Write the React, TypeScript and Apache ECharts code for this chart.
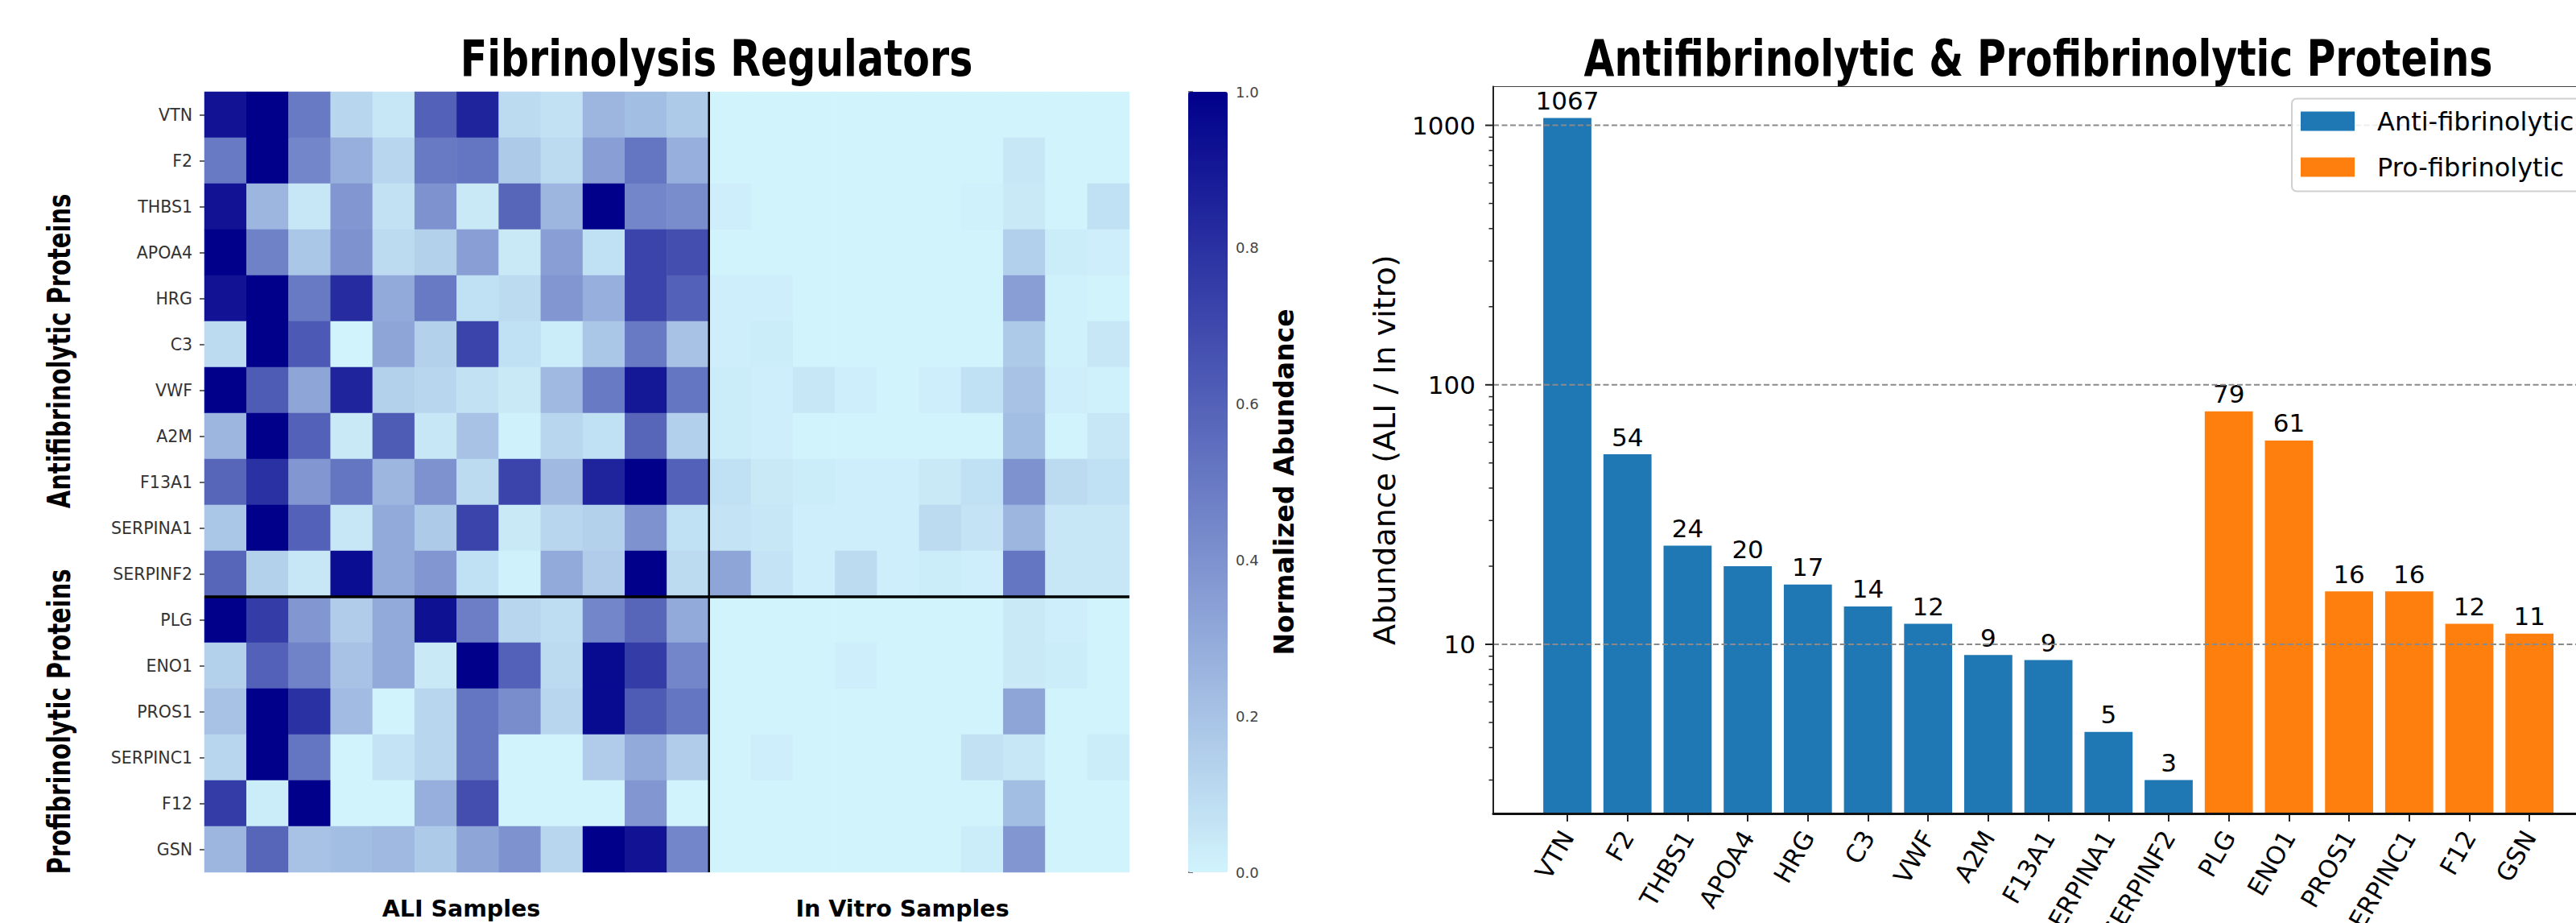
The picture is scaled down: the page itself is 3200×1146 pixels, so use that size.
import React, { useEffect, useRef } from "react";
import * as echarts from "echarts";

// ---------- Heatmap data ----------
const proteins = ["VTN","F2","THBS1","APOA4","HRG","C3","VWF","A2M","F13A1","SERPINA1","SERPINF2","PLG","ENO1","PROS1","SERPINC1","F12","GSN"];
const aliSamples = ["ALI1","ALI2","ALI3","ALI4","ALI5","ALI6","ALI7","ALI8","ALI9","ALI10","ALI11","ALI12"];
const inVitroSamples = ["IV1","IV2","IV3","IV4","IV5","IV6","IV7","IV8","IV9","IV10"];

const aliValues: number[][] = [
  [0.92,1.0,0.5,0.12,0.05,0.6,0.85,0.1,0.07,0.25,0.22,0.17],
  [0.5,1.0,0.45,0.28,0.12,0.5,0.52,0.17,0.1,0.35,0.52,0.28],
  [0.92,0.25,0.05,0.38,0.07,0.4,0.04,0.58,0.25,1.0,0.45,0.42],
  [1.0,0.47,0.18,0.4,0.1,0.14,0.35,0.04,0.35,0.08,0.72,0.68],
  [0.92,1.0,0.5,0.82,0.3,0.5,0.08,0.1,0.38,0.28,0.72,0.6],
  [0.1,1.0,0.63,0.0,0.32,0.14,0.72,0.08,0.03,0.18,0.5,0.2],
  [1.0,0.62,0.32,0.85,0.14,0.12,0.07,0.04,0.24,0.5,0.9,0.52],
  [0.25,1.0,0.6,0.04,0.62,0.05,0.2,0.01,0.12,0.08,0.58,0.15],
  [0.58,0.8,0.38,0.52,0.25,0.4,0.1,0.72,0.24,0.85,1.0,0.6],
  [0.18,1.0,0.6,0.05,0.3,0.17,0.72,0.04,0.12,0.14,0.4,0.08],
  [0.58,0.14,0.05,0.95,0.3,0.38,0.08,0.01,0.3,0.16,1.0,0.1],
  [1.0,0.75,0.38,0.16,0.3,0.93,0.48,0.12,0.09,0.45,0.58,0.3],
  [0.14,0.6,0.46,0.2,0.3,0.04,1.0,0.6,0.1,0.96,0.75,0.45],
  [0.2,1.0,0.8,0.23,0.0,0.12,0.52,0.42,0.12,0.96,0.62,0.52],
  [0.12,1.0,0.52,0.0,0.06,0.12,0.52,0.0,0.0,0.16,0.3,0.16],
  [0.75,0.03,1.0,0.0,0.0,0.28,0.68,0.0,0.0,0.0,0.38,0.0],
  [0.25,0.58,0.2,0.22,0.24,0.17,0.32,0.4,0.12,1.0,0.92,0.45],
];

const inVitroValues: number[][] = [
  [0,0,0,0,0,0,0,0,0,0],
  [0,0,0,0,0,0,0,0.05,0,0],
  [0.02,0,0,0,0,0,0.01,0.04,0,0.08],
  [0,0,0,0,0,0,0,0.15,0.03,0.02],
  [0.02,0.02,0,0,0,0,0,0.35,0.01,0],
  [0.02,0.03,0,0,0,0,0,0.17,0.01,0.05],
  [0.03,0.02,0.05,0.02,0,0.02,0.08,0.2,0.02,0.01],
  [0.03,0.02,0,0,0,0,0,0.22,0,0.05],
  [0.08,0.04,0.03,0.02,0.02,0.04,0.08,0.4,0.1,0.08],
  [0.06,0.05,0.02,0.02,0.02,0.1,0.06,0.25,0.05,0.05],
  [0.32,0.06,0.02,0.1,0.02,0.03,0.02,0.52,0.05,0.05],
  [0,0,0,0,0,0,0,0.04,0.02,0],
  [0,0,0,0.02,0,0,0,0.04,0.03,0],
  [0,0,0,0,0,0,0,0.32,0,0],
  [0,0.02,0,0,0,0,0.07,0.05,0,0.03],
  [0,0,0,0,0,0,0,0.22,0,0],
  [0,0,0,0,0,0,0.03,0.38,0,0],
];

const antiCount = 11; // first 11 proteins are antifibrinolytic

// ---------- Bar chart data ----------
const barProteins = ["VTN","F2","THBS1","APOA4","HRG","C3","VWF","A2M","F13A1","SERPINA1","SERPINF2","PLG","ENO1","PROS1","SERPINC1","F12","GSN"];
const antiValues = [1067, 54, 24, 20, 17, 14, 12, 9.1, 8.7, 4.6, 3.0];
const proValues = [79, 61, 16, 16, 12, 11];
const majorTicks = [10, 100, 1000];
const minorTicks = [3,4,5,6,7,8,9,20,30,40,50,60,70,80,90,200,300,400,500,600,700,800,900];

const FONT = '"DejaVu Sans", "Liberation Sans", sans-serif';

export default function App() {
  const ref = useRef<HTMLDivElement>(null);
  useEffect(() => {
    if (!ref.current) return;
    const chart = echarts.init(ref.current, null, { renderer: "svg" });

    const allCols = [...aliSamples, ...inVitroSamples];
    const heatData: any[] = [];
    proteins.forEach((_, r) => {
      const row = [...aliValues[r], ...inVitroValues[r]];
      row.forEach((v, c) => heatData.push([c, r, v]));
    });

    const antiData = barProteins.map((_, i) => (i < antiValues.length ? antiValues[i] : "-"));
    const proData = barProteins.map((_, i) => (i >= antiValues.length ? proValues[i - antiValues.length] : "-"));
    const tickData = [
      ...majorTicks.map((v) => [v, 0]),
      ...minorTicks.map((v) => [v, 1]),
    ];

    const logMin = 2.23, logMax = 1410;
    const isPow10 = (v: number) => {
      const l = Math.log10(v);
      return Math.abs(l - Math.round(l)) < 1e-6;
    };
    const gridBase = { outerBoundsMode: "none", containLabel: false };

    const option: any = {
      animation: false,
      textStyle: { fontFamily: FONT },
      grid: [
        { ...gridBase, left: 254, top: 114, width: 1149, height: 969 },
        { ...gridBase, left: 1476, top: 114, width: 49, height: 969 },
        { ...gridBase, left: 1855, top: 107.5, width: 1380, height: 902.5, show: true, borderColor: "#444", borderWidth: 1.2, backgroundColor: "transparent" },
        { ...gridBase, left: 1909.65, top: 107.5, width: 1269.9, height: 902.5 },
      ],
      xAxis: [
        { type: "category", gridIndex: 0, data: allCols, show: false },
        { type: "value", gridIndex: 0, min: 0, max: allCols.length, show: false },
        { type: "value", gridIndex: 1, min: 0, max: 1, show: false },
        {
          type: "value", gridIndex: 2, min: 0, max: 1, z: 6,
          axisLine: { show: true, lineStyle: { color: "#111", width: 3 } },
          axisTick: { show: false }, axisLabel: { show: false }, splitLine: { show: false },
        },
        {
          type: "category", gridIndex: 3, data: barProteins,
          axisLine: { show: false },
          axisTick: { show: true, alignWithLabel: true, length: 10, lineStyle: { color: "#222", width: 2 } },
          axisLabel: { interval: 0, rotate: 60, fontSize: 31, color: "#000", margin: 24, fontFamily: FONT },
        },
      ],
      yAxis: [
        {
          type: "category", gridIndex: 0, data: proteins, inverse: true,
          axisLine: { show: false },
          axisTick: { show: true, alignWithLabel: true, length: 6, lineStyle: { color: "#333", width: 1.5 } },
          axisLabel: { fontSize: 20.5, color: "#333", margin: 15, fontFamily: FONT },
        },
        { type: "value", gridIndex: 0, min: 0, max: proteins.length, inverse: true, show: false },
        {
          type: "value", gridIndex: 1, min: 0, max: 1, interval: 0.2, position: "right",
          axisLine: { show: false },
          axisTick: { show: true, length: 6, lineStyle: { color: "#444", width: 1.5 } },
          axisLabel: { fontSize: 18, color: "#444", margin: 10, formatter: (v: number) => v.toFixed(1), fontFamily: FONT },
          splitLine: { show: false },
          name: "Normalized Abundance", nameLocation: "middle", nameRotate: 90, nameGap: 54,
          nameTextStyle: { fontSize: 33, fontWeight: "bold", color: "#000", fontFamily: FONT },
        },
        {
          type: "log", gridIndex: 2, min: logMin, max: logMax, logBase: 10, z: 6,
          axisLine: { show: true, lineStyle: { color: "#222", width: 2 } },
          axisTick: { show: false },
          splitLine: { show: false },
          axisLabel: {
            fontSize: 31, color: "#000", margin: 22, fontFamily: FONT,
            formatter: (v: number) => (isPow10(v) ? String(Math.round(v)) : ""),
          },
          name: "Abundance (ALI / In vitro)", nameLocation: "middle", nameRotate: 90, nameGap: 116,
          nameTextStyle: { fontSize: 38, color: "#000", fontFamily: FONT },
        },
        { type: "log", gridIndex: 3, min: logMin, max: logMax, logBase: 10, show: false },
      ],
      visualMap: {
        type: "continuous", seriesIndex: 0, min: 0, max: 1,
        orient: "vertical", left: 1476, top: 114, itemWidth: 49, itemHeight: 969,
        padding: 0, calculable: false, text: null, showLabel: false,
        inRange: { color: ["#d1f3fc", "#00008b"] },
      },
      legend: {
        data: ["Anti-fibrinolytic", "Pro-fibrinolytic"],
        orient: "vertical", left: 2847, top: 122.5, z: 10,
        itemWidth: 67, itemHeight: 24, itemGap: 25, icon: "rect",
        padding: [12, 120, 14, 11],
        backgroundColor: "rgba(255,255,255,0.85)", borderColor: "#d0d0d0", borderWidth: 2, borderRadius: 6,
        textStyle: { fontSize: 32, color: "#000", fontFamily: FONT, padding: [0, 0, 0, 23] },
      },
      series: [
        {
          type: "heatmap", xAxisIndex: 0, yAxisIndex: 0, data: heatData,
          itemStyle: { borderWidth: 0 }, silent: true,
        },
        {
          type: "line", xAxisIndex: 1, yAxisIndex: 1, silent: true, symbol: "none", z: 5,
          data: [[aliSamples.length, 0], [aliSamples.length, proteins.length]],
          lineStyle: { color: "#000", width: 2.5 },
        },
        {
          type: "line", xAxisIndex: 1, yAxisIndex: 1, silent: true, symbol: "none", z: 5,
          data: [[0, antiCount], [allCols.length, antiCount]],
          lineStyle: { color: "#000", width: 3.5 },
        },
        {
          type: "custom", xAxisIndex: 3, yAxisIndex: 3, silent: true, clip: false, z: 3,
          encode: { x: 1, y: 0 },
          data: tickData,
          renderItem: (params: any, api: any) => {
            const v = api.value(0);
            const kind = api.value(1);
            const p0 = api.coord([0, v]);
            const p1 = api.coord([1, v]);
            const len = kind === 0 ? 10 : 5.5;
            const children: any[] = [
              { type: "line", shape: { x1: p0[0] - len, y1: p0[1], x2: p0[0], y2: p0[1] }, style: { stroke: "#222", lineWidth: kind === 0 ? 2 : 1.5 } },
            ];
            if (kind === 0) {
              children.push({ type: "line", shape: { x1: p0[0], y1: p0[1], x2: p1[0], y2: p1[1] }, style: { stroke: "#8a8a8a", lineWidth: 2, lineDash: [7, 3.5] } });
            }
            return { type: "group", children };
          },
        },
        {
          type: "bar", name: "Anti-fibrinolytic", xAxisIndex: 4, yAxisIndex: 4,
          data: antiData, barWidth: "80%", barGap: "-100%",
          itemStyle: { color: "#1f77b4" },
          label: { show: true, position: "top", distance: 6, fontSize: 31, color: "#000", fontFamily: FONT, formatter: (p: any) => String(Math.round(p.value)) },
        },
        {
          type: "bar", name: "Pro-fibrinolytic", xAxisIndex: 4, yAxisIndex: 4,
          data: proData, barWidth: "80%", barGap: "-100%",
          itemStyle: { color: "#ff7f0e" },
          label: { show: true, position: "top", distance: 6, fontSize: 31, color: "#000", fontFamily: FONT, formatter: (p: any) => String(Math.round(p.value)) },
        },
      ],
      graphic: [
        { type: "text", x: 890, y: 72, scaleX: 0.79, style: { text: "Fibrinolysis Regulators", font: `bold 62px ${FONT}`, fill: "#000", textAlign: "center", textVerticalAlign: "middle", verticalAlign: "middle" } },
        { type: "text", x: 2532, y: 72, scaleX: 0.79, style: { text: "Antifibrinolytic & Profibrinolytic Proteins", font: `bold 62px ${FONT}`, fill: "#000", textAlign: "center", textVerticalAlign: "middle", verticalAlign: "middle" } },
        { type: "text", x: 73, y: 436, rotation: Math.PI / 2, scaleY: 1.35, style: { text: "Antifibrinolytic Proteins", font: `bold 29px ${FONT}`, fill: "#000", textAlign: "center", textVerticalAlign: "middle", verticalAlign: "middle" } },
        { type: "text", x: 73, y: 896, rotation: Math.PI / 2, scaleY: 1.35, style: { text: "Profibrinolytic Proteins", font: `bold 29px ${FONT}`, fill: "#000", textAlign: "center", textVerticalAlign: "middle", verticalAlign: "middle" } },
        { type: "text", x: 573, y: 1128, style: { text: "ALI Samples", font: `bold 28.5px ${FONT}`, fill: "#000", textAlign: "center", textVerticalAlign: "middle", verticalAlign: "middle" } },
        { type: "text", x: 1121, y: 1128, style: { text: "In Vitro Samples", font: `bold 28.5px ${FONT}`, fill: "#000", textAlign: "center", textVerticalAlign: "middle", verticalAlign: "middle" } },
      ],
    };

    chart.setOption(option);
    return () => chart.dispose();
  }, []);

  return (
    <div style={{ position: "absolute", left: 0, top: 0, width: 3200, height: 1146, overflow: "hidden", background: "#fff" }}>
      <div ref={ref} style={{ width: 3400, height: 1146 }} />
    </div>
  );
}
